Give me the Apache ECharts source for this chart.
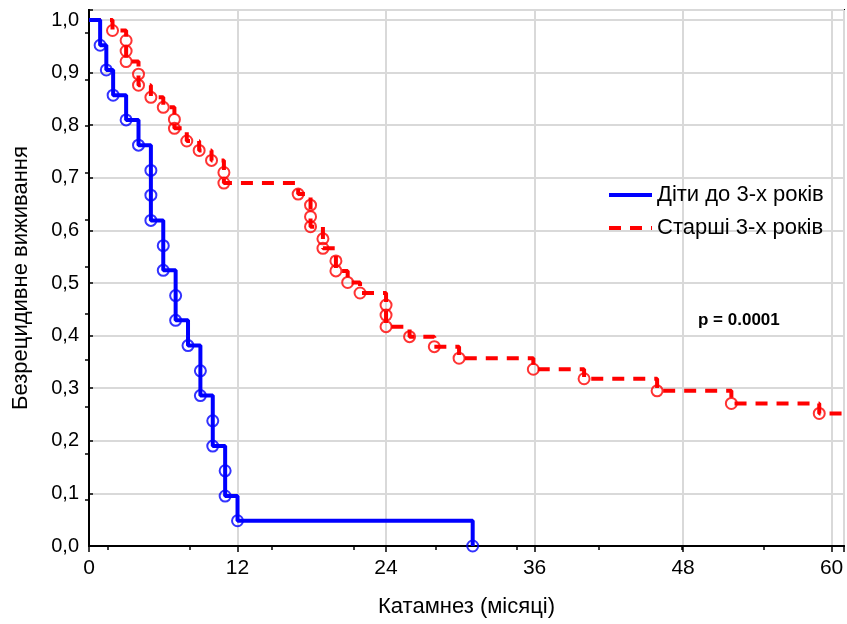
<!DOCTYPE html>
<html>
<head>
<meta charset="utf-8">
<script src="https://cdn.jsdelivr.net/npm/echarts@6/dist/echarts.min.js"></script>
<style>
html, body { margin: 0; padding: 0; background: #fff; }
#chart { width: 847px; height: 624px; }
</style>
</head>
<body>
<div id="chart"></div>
<script>
// Діти до 3-х років: event times (months) and survival after each event
var youngTimes = [0.9, 1.4, 1.95, 3, 4, 5, 5, 5, 6, 6, 7, 7, 8, 9, 9, 10, 10, 11, 11, 12, 31];
var youngSurv = [0.952, 0.905, 0.857, 0.810, 0.762, 0.714, 0.667, 0.619, 0.571, 0.524, 0.476,
  0.429, 0.381, 0.333, 0.286, 0.238, 0.190, 0.143, 0.095, 0.048, 0.0];

// Старші 3-х років
var olderTimes = [1.9, 3, 3, 3, 4, 4, 5, 6, 6.9, 6.9, 7.9, 8.9, 9.9, 10.9, 10.9, 16.9, 17.9, 17.9, 17.9,
  18.9, 18.9, 19.95, 19.95, 20.9, 21.9, 24, 24, 24, 25.9, 27.9, 29.9, 35.9, 40, 45.9, 51.9, 59];
var olderSurv = [0.980, 0.961, 0.941, 0.921, 0.897, 0.876, 0.853, 0.834, 0.811, 0.794, 0.770, 0.752,
  0.733, 0.710, 0.690, 0.669, 0.648, 0.626, 0.607, 0.584, 0.566, 0.542, 0.523, 0.501, 0.481, 0.458,
  0.439, 0.417, 0.398, 0.379, 0.357, 0.336, 0.318, 0.295, 0.271, 0.252];

var followUpEnd = 61;
var xTicks = [0, 12, 24, 36, 48, 60];
// unlabeled ticks on the top and right frame
var topTicks = [1.53, 8.15, 14.77, 21.39, 28.0, 34.6, 41.2, 47.9, 54.5];
var rightTicks = [0.975, 0.886, 0.798, 0.709, 0.620, 0.531, 0.442, 0.354, 0.265, 0.176, 0.087];

var seriesNames = ['Діти до 3-х років', 'Старші 3-х років'];
var pText = 'p = 0.0001';

function pairs(t, s) {
  var out = [];
  for (var i = 0; i < t.length; i++) out.push([t[i], s[i]]);
  return out;
}

var youngPts = pairs(youngTimes, youngSurv);
var olderPts = pairs(olderTimes, olderSurv);
var youngLine = [[0, 1]].concat(youngPts);
var olderLine = [[0, 1]].concat(olderPts).concat([[followUpEnd, olderSurv[olderSurv.length - 1]]]);

var chart = echarts.init(document.getElementById('chart'));
var font = 'Liberation Sans, Arial, sans-serif';

chart.setOption({
  animation: false,
  backgroundColor: '#fff',
  grid: { left: 89, right: 3, top: 10, bottom: 78, show: true, borderColor: '#000', borderWidth: 2 },
  legend: {
    data: seriesNames,
    orient: 'vertical',
    left: 607,
    top: 184,
    padding: 0,
    itemWidth: 43,
    itemHeight: 14,
    itemGap: 11,
    itemStyle: { opacity: 0 },
    lineStyle: { width: 4 },
    textStyle: { fontFamily: font, fontSize: 22, color: '#000', lineHeight: 22 }
  },
  xAxis: [{
    type: 'value',
    min: 0, max: followUpEnd, interval: 12,
    name: 'Катамнез (місяці)',
    nameLocation: 'middle',
    nameGap: 50,
    nameTextStyle: { fontFamily: font, fontSize: 22, color: '#000' },
    axisLine: { lineStyle: { color: '#000', width: 2 } },
    axisTick: { show: true, inside: false, length: 6, lineStyle: { color: '#000', width: 1.5 } },
    axisLabel: { fontFamily: font, fontSize: 21, color: '#000', margin: 12,
      formatter: function (v) { return xTicks.indexOf(v) >= 0 ? String(v) : ''; } },
    splitLine: { show: true, lineStyle: { color: '#d9d9d9', width: 2 } }
  }, {
    type: 'value', position: 'top',
    min: 0, max: followUpEnd,
    axisLine: { show: true, lineStyle: { color: '#000', width: 2 } },
    axisTick: { show: true, inside: true, length: 4, customValues: topTicks, lineStyle: { color: '#000', width: 1.5 } },
    axisLabel: { show: false },
    splitLine: { show: false }
  }],
  yAxis: [{
    type: 'value',
    min: 0, max: 1.019, interval: 0.1,
    name: 'Безрецидивне виживання',
    nameLocation: 'middle',
    nameGap: 57,
    nameTextStyle: { fontFamily: font, fontSize: 22, color: '#000' },
    axisLine: { show: true, lineStyle: { color: '#000', width: 2 } },
    axisTick: { show: true, inside: true, length: 4, lineStyle: { color: '#000', width: 1.5 } },
    axisLabel: { fontFamily: font, fontSize: 20, color: '#000', margin: 10,
      formatter: function (v) {
        if (v > 1.001) return '';
        return v.toFixed(1).replace('.', ',');
      } },
    splitLine: { show: true, lineStyle: { color: '#d9d9d9', width: 2 } }
  }, {
    type: 'value', position: 'right',
    min: 0, max: 1.019,
    axisLine: { show: true, lineStyle: { color: '#000', width: 2 } },
    axisTick: { show: true, inside: true, length: 4, customValues: rightTicks, lineStyle: { color: '#000', width: 1.5 } },
    axisLabel: { show: false },
    splitLine: { show: false }
  }],
  graphic: [{
    type: 'text',
    left: 698, top: 312,
    style: { text: pText, fontFamily: font, fontWeight: 'bold', fontSize: 17, fill: '#000' }
  }],
  series: [{
    name: seriesNames[1],
    type: 'line',
    step: 'end',
    data: olderLine,
    symbol: 'none',
    color: '#ff0000',
    lineStyle: { color: '#ff0000', width: 4, type: [12, 9] },
    z: 2
  }, {
    name: seriesNames[0],
    type: 'line',
    step: 'end',
    data: youngLine,
    symbol: 'none',
    color: '#0000ff',
    lineStyle: { color: '#0000ff', width: 4 },
    z: 3
  }, {
    name: 'olderMarks',
    type: 'scatter',
    data: olderPts,
    symbol: 'circle',
    symbolSize: 11,
    itemStyle: { color: 'rgba(0,0,0,0)', borderColor: '#ff0000', borderWidth: 2 },
    z: 4
  }, {
    name: 'youngMarks',
    type: 'scatter',
    data: youngPts,
    symbol: 'circle',
    symbolSize: 11,
    itemStyle: { color: 'rgba(0,0,0,0)', borderColor: '#0000ff', borderWidth: 2 },
    z: 5
  }]
});
</script>
</body>
</html>
